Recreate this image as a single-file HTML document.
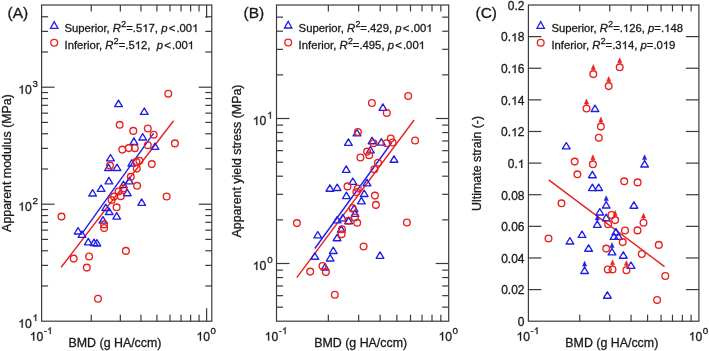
<!DOCTYPE html>
<html><head><meta charset="utf-8"><style>
html,body{margin:0;padding:0;background:#fff;}
svg{display:block;will-change:transform;}
text{font-family:"Liberation Sans",sans-serif;fill:#1a1a1a;stroke:#1a1a1a;stroke-width:0.3px;}
.o1{fill-opacity:0;stroke-opacity:0;}
</style></head><body>
<svg width="709" height="351" viewBox="0 0 709 351">
<rect x="41.60" y="5.00" width="170.20" height="316.20" fill="none" stroke="#3a3a3a" stroke-width="1.2"/>
<line x1="91.27" y1="321.20" x2="91.27" y2="314.70" stroke="#3a3a3a" stroke-width="1.2"/>
<line x1="91.27" y1="5.00" x2="91.27" y2="11.50" stroke="#3a3a3a" stroke-width="1.2"/>
<line x1="120.33" y1="321.20" x2="120.33" y2="314.70" stroke="#3a3a3a" stroke-width="1.2"/>
<line x1="120.33" y1="5.00" x2="120.33" y2="11.50" stroke="#3a3a3a" stroke-width="1.2"/>
<line x1="140.94" y1="321.20" x2="140.94" y2="314.70" stroke="#3a3a3a" stroke-width="1.2"/>
<line x1="140.94" y1="5.00" x2="140.94" y2="11.50" stroke="#3a3a3a" stroke-width="1.2"/>
<line x1="156.93" y1="321.20" x2="156.93" y2="314.70" stroke="#3a3a3a" stroke-width="1.2"/>
<line x1="156.93" y1="5.00" x2="156.93" y2="11.50" stroke="#3a3a3a" stroke-width="1.2"/>
<line x1="169.99" y1="321.20" x2="169.99" y2="314.70" stroke="#3a3a3a" stroke-width="1.2"/>
<line x1="169.99" y1="5.00" x2="169.99" y2="11.50" stroke="#3a3a3a" stroke-width="1.2"/>
<line x1="181.04" y1="321.20" x2="181.04" y2="314.70" stroke="#3a3a3a" stroke-width="1.2"/>
<line x1="181.04" y1="5.00" x2="181.04" y2="11.50" stroke="#3a3a3a" stroke-width="1.2"/>
<line x1="190.61" y1="321.20" x2="190.61" y2="314.70" stroke="#3a3a3a" stroke-width="1.2"/>
<line x1="190.61" y1="5.00" x2="190.61" y2="11.50" stroke="#3a3a3a" stroke-width="1.2"/>
<line x1="199.05" y1="321.20" x2="199.05" y2="314.70" stroke="#3a3a3a" stroke-width="1.2"/>
<line x1="199.05" y1="5.00" x2="199.05" y2="11.50" stroke="#3a3a3a" stroke-width="1.2"/>
<line x1="206.60" y1="321.20" x2="206.60" y2="308.20" stroke="#3a3a3a" stroke-width="1.2"/>
<line x1="206.60" y1="5.00" x2="206.60" y2="18.00" stroke="#3a3a3a" stroke-width="1.2"/>
<line x1="41.60" y1="285.98" x2="48.10" y2="285.98" stroke="#3a3a3a" stroke-width="1.2"/>
<line x1="211.80" y1="285.98" x2="205.30" y2="285.98" stroke="#3a3a3a" stroke-width="1.2"/>
<line x1="41.60" y1="265.38" x2="48.10" y2="265.38" stroke="#3a3a3a" stroke-width="1.2"/>
<line x1="211.80" y1="265.38" x2="205.30" y2="265.38" stroke="#3a3a3a" stroke-width="1.2"/>
<line x1="41.60" y1="250.76" x2="48.10" y2="250.76" stroke="#3a3a3a" stroke-width="1.2"/>
<line x1="211.80" y1="250.76" x2="205.30" y2="250.76" stroke="#3a3a3a" stroke-width="1.2"/>
<line x1="41.60" y1="239.42" x2="48.10" y2="239.42" stroke="#3a3a3a" stroke-width="1.2"/>
<line x1="211.80" y1="239.42" x2="205.30" y2="239.42" stroke="#3a3a3a" stroke-width="1.2"/>
<line x1="41.60" y1="230.16" x2="48.10" y2="230.16" stroke="#3a3a3a" stroke-width="1.2"/>
<line x1="211.80" y1="230.16" x2="205.30" y2="230.16" stroke="#3a3a3a" stroke-width="1.2"/>
<line x1="41.60" y1="222.32" x2="48.10" y2="222.32" stroke="#3a3a3a" stroke-width="1.2"/>
<line x1="211.80" y1="222.32" x2="205.30" y2="222.32" stroke="#3a3a3a" stroke-width="1.2"/>
<line x1="41.60" y1="215.54" x2="48.10" y2="215.54" stroke="#3a3a3a" stroke-width="1.2"/>
<line x1="211.80" y1="215.54" x2="205.30" y2="215.54" stroke="#3a3a3a" stroke-width="1.2"/>
<line x1="41.60" y1="209.55" x2="48.10" y2="209.55" stroke="#3a3a3a" stroke-width="1.2"/>
<line x1="211.80" y1="209.55" x2="205.30" y2="209.55" stroke="#3a3a3a" stroke-width="1.2"/>
<line x1="41.60" y1="204.20" x2="54.60" y2="204.20" stroke="#3a3a3a" stroke-width="1.2"/>
<line x1="211.80" y1="204.20" x2="198.80" y2="204.20" stroke="#3a3a3a" stroke-width="1.2"/>
<line x1="41.60" y1="168.98" x2="48.10" y2="168.98" stroke="#3a3a3a" stroke-width="1.2"/>
<line x1="211.80" y1="168.98" x2="205.30" y2="168.98" stroke="#3a3a3a" stroke-width="1.2"/>
<line x1="41.60" y1="148.38" x2="48.10" y2="148.38" stroke="#3a3a3a" stroke-width="1.2"/>
<line x1="211.80" y1="148.38" x2="205.30" y2="148.38" stroke="#3a3a3a" stroke-width="1.2"/>
<line x1="41.60" y1="133.76" x2="48.10" y2="133.76" stroke="#3a3a3a" stroke-width="1.2"/>
<line x1="211.80" y1="133.76" x2="205.30" y2="133.76" stroke="#3a3a3a" stroke-width="1.2"/>
<line x1="41.60" y1="122.42" x2="48.10" y2="122.42" stroke="#3a3a3a" stroke-width="1.2"/>
<line x1="211.80" y1="122.42" x2="205.30" y2="122.42" stroke="#3a3a3a" stroke-width="1.2"/>
<line x1="41.60" y1="113.16" x2="48.10" y2="113.16" stroke="#3a3a3a" stroke-width="1.2"/>
<line x1="211.80" y1="113.16" x2="205.30" y2="113.16" stroke="#3a3a3a" stroke-width="1.2"/>
<line x1="41.60" y1="105.32" x2="48.10" y2="105.32" stroke="#3a3a3a" stroke-width="1.2"/>
<line x1="211.80" y1="105.32" x2="205.30" y2="105.32" stroke="#3a3a3a" stroke-width="1.2"/>
<line x1="41.60" y1="98.54" x2="48.10" y2="98.54" stroke="#3a3a3a" stroke-width="1.2"/>
<line x1="211.80" y1="98.54" x2="205.30" y2="98.54" stroke="#3a3a3a" stroke-width="1.2"/>
<line x1="41.60" y1="92.55" x2="48.10" y2="92.55" stroke="#3a3a3a" stroke-width="1.2"/>
<line x1="211.80" y1="92.55" x2="205.30" y2="92.55" stroke="#3a3a3a" stroke-width="1.2"/>
<line x1="41.60" y1="87.20" x2="54.60" y2="87.20" stroke="#3a3a3a" stroke-width="1.2"/>
<line x1="211.80" y1="87.20" x2="198.80" y2="87.20" stroke="#3a3a3a" stroke-width="1.2"/>
<line x1="41.60" y1="51.98" x2="48.10" y2="51.98" stroke="#3a3a3a" stroke-width="1.2"/>
<line x1="211.80" y1="51.98" x2="205.30" y2="51.98" stroke="#3a3a3a" stroke-width="1.2"/>
<line x1="41.60" y1="31.38" x2="48.10" y2="31.38" stroke="#3a3a3a" stroke-width="1.2"/>
<line x1="211.80" y1="31.38" x2="205.30" y2="31.38" stroke="#3a3a3a" stroke-width="1.2"/>
<line x1="41.60" y1="16.76" x2="48.10" y2="16.76" stroke="#3a3a3a" stroke-width="1.2"/>
<line x1="211.80" y1="16.76" x2="205.30" y2="16.76" stroke="#3a3a3a" stroke-width="1.2"/>
<rect x="276.50" y="5.00" width="172.20" height="316.20" fill="none" stroke="#3a3a3a" stroke-width="1.2"/>
<line x1="328.34" y1="321.20" x2="328.34" y2="314.70" stroke="#3a3a3a" stroke-width="1.2"/>
<line x1="328.34" y1="5.00" x2="328.34" y2="11.50" stroke="#3a3a3a" stroke-width="1.2"/>
<line x1="358.66" y1="321.20" x2="358.66" y2="314.70" stroke="#3a3a3a" stroke-width="1.2"/>
<line x1="358.66" y1="5.00" x2="358.66" y2="11.50" stroke="#3a3a3a" stroke-width="1.2"/>
<line x1="380.17" y1="321.20" x2="380.17" y2="314.70" stroke="#3a3a3a" stroke-width="1.2"/>
<line x1="380.17" y1="5.00" x2="380.17" y2="11.50" stroke="#3a3a3a" stroke-width="1.2"/>
<line x1="396.86" y1="321.20" x2="396.86" y2="314.70" stroke="#3a3a3a" stroke-width="1.2"/>
<line x1="396.86" y1="5.00" x2="396.86" y2="11.50" stroke="#3a3a3a" stroke-width="1.2"/>
<line x1="410.50" y1="321.20" x2="410.50" y2="314.70" stroke="#3a3a3a" stroke-width="1.2"/>
<line x1="410.50" y1="5.00" x2="410.50" y2="11.50" stroke="#3a3a3a" stroke-width="1.2"/>
<line x1="422.03" y1="321.20" x2="422.03" y2="314.70" stroke="#3a3a3a" stroke-width="1.2"/>
<line x1="422.03" y1="5.00" x2="422.03" y2="11.50" stroke="#3a3a3a" stroke-width="1.2"/>
<line x1="432.01" y1="321.20" x2="432.01" y2="314.70" stroke="#3a3a3a" stroke-width="1.2"/>
<line x1="432.01" y1="5.00" x2="432.01" y2="11.50" stroke="#3a3a3a" stroke-width="1.2"/>
<line x1="440.82" y1="321.20" x2="440.82" y2="314.70" stroke="#3a3a3a" stroke-width="1.2"/>
<line x1="440.82" y1="5.00" x2="440.82" y2="11.50" stroke="#3a3a3a" stroke-width="1.2"/>
<line x1="276.50" y1="307.15" x2="283.00" y2="307.15" stroke="#3a3a3a" stroke-width="1.2"/>
<line x1="448.70" y1="307.15" x2="442.20" y2="307.15" stroke="#3a3a3a" stroke-width="1.2"/>
<line x1="276.50" y1="295.67" x2="283.00" y2="295.67" stroke="#3a3a3a" stroke-width="1.2"/>
<line x1="448.70" y1="295.67" x2="442.20" y2="295.67" stroke="#3a3a3a" stroke-width="1.2"/>
<line x1="276.50" y1="285.96" x2="283.00" y2="285.96" stroke="#3a3a3a" stroke-width="1.2"/>
<line x1="448.70" y1="285.96" x2="442.20" y2="285.96" stroke="#3a3a3a" stroke-width="1.2"/>
<line x1="276.50" y1="277.55" x2="283.00" y2="277.55" stroke="#3a3a3a" stroke-width="1.2"/>
<line x1="448.70" y1="277.55" x2="442.20" y2="277.55" stroke="#3a3a3a" stroke-width="1.2"/>
<line x1="276.50" y1="270.13" x2="283.00" y2="270.13" stroke="#3a3a3a" stroke-width="1.2"/>
<line x1="448.70" y1="270.13" x2="442.20" y2="270.13" stroke="#3a3a3a" stroke-width="1.2"/>
<line x1="276.50" y1="263.50" x2="289.50" y2="263.50" stroke="#3a3a3a" stroke-width="1.2"/>
<line x1="448.70" y1="263.50" x2="435.70" y2="263.50" stroke="#3a3a3a" stroke-width="1.2"/>
<line x1="276.50" y1="219.85" x2="283.00" y2="219.85" stroke="#3a3a3a" stroke-width="1.2"/>
<line x1="448.70" y1="219.85" x2="442.20" y2="219.85" stroke="#3a3a3a" stroke-width="1.2"/>
<line x1="276.50" y1="194.32" x2="283.00" y2="194.32" stroke="#3a3a3a" stroke-width="1.2"/>
<line x1="448.70" y1="194.32" x2="442.20" y2="194.32" stroke="#3a3a3a" stroke-width="1.2"/>
<line x1="276.50" y1="176.20" x2="283.00" y2="176.20" stroke="#3a3a3a" stroke-width="1.2"/>
<line x1="448.70" y1="176.20" x2="442.20" y2="176.20" stroke="#3a3a3a" stroke-width="1.2"/>
<line x1="276.50" y1="162.15" x2="283.00" y2="162.15" stroke="#3a3a3a" stroke-width="1.2"/>
<line x1="448.70" y1="162.15" x2="442.20" y2="162.15" stroke="#3a3a3a" stroke-width="1.2"/>
<line x1="276.50" y1="150.67" x2="283.00" y2="150.67" stroke="#3a3a3a" stroke-width="1.2"/>
<line x1="448.70" y1="150.67" x2="442.20" y2="150.67" stroke="#3a3a3a" stroke-width="1.2"/>
<line x1="276.50" y1="140.96" x2="283.00" y2="140.96" stroke="#3a3a3a" stroke-width="1.2"/>
<line x1="448.70" y1="140.96" x2="442.20" y2="140.96" stroke="#3a3a3a" stroke-width="1.2"/>
<line x1="276.50" y1="132.55" x2="283.00" y2="132.55" stroke="#3a3a3a" stroke-width="1.2"/>
<line x1="448.70" y1="132.55" x2="442.20" y2="132.55" stroke="#3a3a3a" stroke-width="1.2"/>
<line x1="276.50" y1="125.13" x2="283.00" y2="125.13" stroke="#3a3a3a" stroke-width="1.2"/>
<line x1="448.70" y1="125.13" x2="442.20" y2="125.13" stroke="#3a3a3a" stroke-width="1.2"/>
<line x1="276.50" y1="118.50" x2="289.50" y2="118.50" stroke="#3a3a3a" stroke-width="1.2"/>
<line x1="448.70" y1="118.50" x2="435.70" y2="118.50" stroke="#3a3a3a" stroke-width="1.2"/>
<line x1="276.50" y1="74.85" x2="283.00" y2="74.85" stroke="#3a3a3a" stroke-width="1.2"/>
<line x1="448.70" y1="74.85" x2="442.20" y2="74.85" stroke="#3a3a3a" stroke-width="1.2"/>
<line x1="276.50" y1="49.32" x2="283.00" y2="49.32" stroke="#3a3a3a" stroke-width="1.2"/>
<line x1="448.70" y1="49.32" x2="442.20" y2="49.32" stroke="#3a3a3a" stroke-width="1.2"/>
<line x1="276.50" y1="31.20" x2="283.00" y2="31.20" stroke="#3a3a3a" stroke-width="1.2"/>
<line x1="448.70" y1="31.20" x2="442.20" y2="31.20" stroke="#3a3a3a" stroke-width="1.2"/>
<line x1="276.50" y1="17.15" x2="283.00" y2="17.15" stroke="#3a3a3a" stroke-width="1.2"/>
<line x1="448.70" y1="17.15" x2="442.20" y2="17.15" stroke="#3a3a3a" stroke-width="1.2"/>
<rect x="528.40" y="5.00" width="170.50" height="316.20" fill="none" stroke="#3a3a3a" stroke-width="1.2"/>
<line x1="579.73" y1="321.20" x2="579.73" y2="314.70" stroke="#3a3a3a" stroke-width="1.2"/>
<line x1="579.73" y1="5.00" x2="579.73" y2="11.50" stroke="#3a3a3a" stroke-width="1.2"/>
<line x1="609.75" y1="321.20" x2="609.75" y2="314.70" stroke="#3a3a3a" stroke-width="1.2"/>
<line x1="609.75" y1="5.00" x2="609.75" y2="11.50" stroke="#3a3a3a" stroke-width="1.2"/>
<line x1="631.05" y1="321.20" x2="631.05" y2="314.70" stroke="#3a3a3a" stroke-width="1.2"/>
<line x1="631.05" y1="5.00" x2="631.05" y2="11.50" stroke="#3a3a3a" stroke-width="1.2"/>
<line x1="647.57" y1="321.20" x2="647.57" y2="314.70" stroke="#3a3a3a" stroke-width="1.2"/>
<line x1="647.57" y1="5.00" x2="647.57" y2="11.50" stroke="#3a3a3a" stroke-width="1.2"/>
<line x1="661.07" y1="321.20" x2="661.07" y2="314.70" stroke="#3a3a3a" stroke-width="1.2"/>
<line x1="661.07" y1="5.00" x2="661.07" y2="11.50" stroke="#3a3a3a" stroke-width="1.2"/>
<line x1="672.49" y1="321.20" x2="672.49" y2="314.70" stroke="#3a3a3a" stroke-width="1.2"/>
<line x1="672.49" y1="5.00" x2="672.49" y2="11.50" stroke="#3a3a3a" stroke-width="1.2"/>
<line x1="682.38" y1="321.20" x2="682.38" y2="314.70" stroke="#3a3a3a" stroke-width="1.2"/>
<line x1="682.38" y1="5.00" x2="682.38" y2="11.50" stroke="#3a3a3a" stroke-width="1.2"/>
<line x1="691.10" y1="321.20" x2="691.10" y2="314.70" stroke="#3a3a3a" stroke-width="1.2"/>
<line x1="691.10" y1="5.00" x2="691.10" y2="11.50" stroke="#3a3a3a" stroke-width="1.2"/>
<line x1="528.40" y1="289.58" x2="541.40" y2="289.58" stroke="#3a3a3a" stroke-width="1.2"/>
<line x1="698.90" y1="289.58" x2="685.90" y2="289.58" stroke="#3a3a3a" stroke-width="1.2"/>
<line x1="528.40" y1="257.96" x2="541.40" y2="257.96" stroke="#3a3a3a" stroke-width="1.2"/>
<line x1="698.90" y1="257.96" x2="685.90" y2="257.96" stroke="#3a3a3a" stroke-width="1.2"/>
<line x1="528.40" y1="226.34" x2="541.40" y2="226.34" stroke="#3a3a3a" stroke-width="1.2"/>
<line x1="698.90" y1="226.34" x2="685.90" y2="226.34" stroke="#3a3a3a" stroke-width="1.2"/>
<line x1="528.40" y1="194.72" x2="541.40" y2="194.72" stroke="#3a3a3a" stroke-width="1.2"/>
<line x1="698.90" y1="194.72" x2="685.90" y2="194.72" stroke="#3a3a3a" stroke-width="1.2"/>
<line x1="528.40" y1="163.10" x2="541.40" y2="163.10" stroke="#3a3a3a" stroke-width="1.2"/>
<line x1="698.90" y1="163.10" x2="685.90" y2="163.10" stroke="#3a3a3a" stroke-width="1.2"/>
<line x1="528.40" y1="131.48" x2="541.40" y2="131.48" stroke="#3a3a3a" stroke-width="1.2"/>
<line x1="698.90" y1="131.48" x2="685.90" y2="131.48" stroke="#3a3a3a" stroke-width="1.2"/>
<line x1="528.40" y1="99.86" x2="541.40" y2="99.86" stroke="#3a3a3a" stroke-width="1.2"/>
<line x1="698.90" y1="99.86" x2="685.90" y2="99.86" stroke="#3a3a3a" stroke-width="1.2"/>
<line x1="528.40" y1="68.24" x2="541.40" y2="68.24" stroke="#3a3a3a" stroke-width="1.2"/>
<line x1="698.90" y1="68.24" x2="685.90" y2="68.24" stroke="#3a3a3a" stroke-width="1.2"/>
<line x1="528.40" y1="36.62" x2="541.40" y2="36.62" stroke="#3a3a3a" stroke-width="1.2"/>
<line x1="698.90" y1="36.62" x2="685.90" y2="36.62" stroke="#3a3a3a" stroke-width="1.2"/>
<path d="M50.50,28.30 L54.20,21.70 L57.90,28.30 Z" fill="none" stroke="#1e1ee6" stroke-width="1.3"/>
<circle cx="54.20" cy="42.80" r="3.4" fill="none" stroke="#e8201e" stroke-width="1.3"/>
<text x="64.50" y="32.0" font-size="11.3">Superior, <tspan font-style="italic">R</tspan><tspan font-size="8.8" dy="-5" dx="0.3">2</tspan><tspan dy="5">=.5<tspan class="o1">1</tspan>7,</tspan> <tspan font-style="italic">p</tspan><tspan dx="1.3">&lt;</tspan><tspan dx="1.1">.00<tspan class="o1">1</tspan></tspan></text>
<text x="64.50" y="49.1" font-size="11.3">Inferior, <tspan font-style="italic">R</tspan><tspan font-size="8.8" dy="-5" dx="0.3">2</tspan><tspan dy="5">=.5<tspan class="o1">1</tspan>2,</tspan>&#160; <tspan font-style="italic">p</tspan><tspan dx="1.3">&lt;</tspan><tspan dx="1.1">.00<tspan class="o1">1</tspan></tspan></text>
<path d="M284.50,28.00 L288.20,21.40 L291.90,28.00 Z" fill="none" stroke="#1e1ee6" stroke-width="1.3"/>
<circle cx="288.20" cy="42.50" r="3.4" fill="none" stroke="#e8201e" stroke-width="1.3"/>
<text x="298.60" y="32.0" font-size="11.3">Superior, <tspan font-style="italic">R</tspan><tspan font-size="8.8" dy="-5" dx="0.3">2</tspan><tspan dy="5">=.429,</tspan> <tspan font-style="italic">p</tspan><tspan dx="1.3">&lt;</tspan><tspan dx="1.1">.00<tspan class="o1">1</tspan></tspan></text>
<text x="298.60" y="49.1" font-size="11.3">Inferior, <tspan font-style="italic">R</tspan><tspan font-size="8.8" dy="-5" dx="0.3">2</tspan><tspan dy="5">=.495,</tspan> <tspan font-style="italic">p</tspan><tspan dx="1.3">&lt;</tspan><tspan dx="1.1">.00<tspan class="o1">1</tspan></tspan></text>
<path d="M537.00,28.30 L540.70,21.70 L544.40,28.30 Z" fill="none" stroke="#1e1ee6" stroke-width="1.3"/>
<circle cx="540.70" cy="42.80" r="3.4" fill="none" stroke="#e8201e" stroke-width="1.3"/>
<text x="551.40" y="32.0" font-size="11.3">Superior, <tspan font-style="italic">R</tspan><tspan font-size="8.8" dy="-5" dx="0.3">2</tspan><tspan dy="5">=.<tspan class="o1">1</tspan>26,</tspan> <tspan font-style="italic">p</tspan>=.<tspan class="o1">1</tspan>48</text>
<text x="551.40" y="49.1" font-size="11.3">Inferior, <tspan font-style="italic">R</tspan><tspan font-size="8.8" dy="-5" dx="0.3">2</tspan><tspan dy="5">=.3<tspan class="o1">1</tspan>4,</tspan> <tspan font-style="italic">p</tspan>=.0<tspan class="o1">1</tspan>9</text>
<text x="7.50" y="17.50" font-size="15.5" text-anchor="start" >(A)</text>
<text x="243.50" y="17.50" font-size="15.5" text-anchor="start" >(B)</text>
<text x="475.50" y="17.50" font-size="15.5" text-anchor="start" >(C)</text>
<text x="38.00" y="93.70" font-size="12.2" text-anchor="end"><tspan class="o1">1</tspan>0<tspan font-size="9.8" dy="-6.6" dx="0.8">3</tspan></text>
<text x="38.00" y="210.70" font-size="12.2" text-anchor="end"><tspan class="o1">1</tspan>0<tspan font-size="9.8" dy="-6.6" dx="0.8">2</tspan></text>
<text x="38.00" y="327.70" font-size="12.2" text-anchor="end"><tspan class="o1">1</tspan>0<tspan font-size="9.8" dy="-6.6" dx="0.8"><tspan class="o1">1</tspan></tspan></text>
<text x="272.60" y="125.00" font-size="12.2" text-anchor="end"><tspan class="o1">1</tspan>0<tspan font-size="9.8" dy="-6.6" dx="0.8"><tspan class="o1">1</tspan></tspan></text>
<text x="272.60" y="270.00" font-size="12.2" text-anchor="end"><tspan class="o1">1</tspan>0<tspan font-size="9.8" dy="-6.6" dx="0.8">0</tspan></text>
<text x="524.50" y="326.00" font-size="12.0" text-anchor="end" >0</text>
<text x="524.50" y="294.38" font-size="12.0" text-anchor="end" >0.02</text>
<text x="524.50" y="262.76" font-size="12.0" text-anchor="end" >0.04</text>
<text x="524.50" y="231.14" font-size="12.0" text-anchor="end" >0.06</text>
<text x="524.50" y="199.52" font-size="12.0" text-anchor="end" >0.08</text>
<text x="524.50" y="167.90" font-size="12.0" text-anchor="end" >0.<tspan class="o1">1</tspan></text>
<text x="524.50" y="136.28" font-size="12.0" text-anchor="end" >0.<tspan class="o1">1</tspan>2</text>
<text x="524.50" y="104.66" font-size="12.0" text-anchor="end" >0.<tspan class="o1">1</tspan>4</text>
<text x="524.50" y="73.04" font-size="12.0" text-anchor="end" >0.<tspan class="o1">1</tspan>6</text>
<text x="524.50" y="41.42" font-size="12.0" text-anchor="end" >0.<tspan class="o1">1</tspan>8</text>
<text x="524.50" y="10.20" font-size="12.0" text-anchor="end" >0.2</text>
<text x="41.10" y="340.50" font-size="12.2" text-anchor="middle"><tspan class="o1">1</tspan>0<tspan font-size="9.8" dy="-6.4" dx="0.5">-<tspan class="o1">1</tspan></tspan></text>
<text x="206.20" y="340.50" font-size="12.2" text-anchor="middle"><tspan class="o1">1</tspan>0<tspan font-size="9.8" dy="-6.4" dx="0.5">0</tspan></text>
<text x="276.00" y="340.50" font-size="12.2" text-anchor="middle"><tspan class="o1">1</tspan>0<tspan font-size="9.8" dy="-6.4" dx="0.5">-<tspan class="o1">1</tspan></tspan></text>
<text x="448.30" y="340.50" font-size="12.2" text-anchor="middle"><tspan class="o1">1</tspan>0<tspan font-size="9.8" dy="-6.4" dx="0.5">0</tspan></text>
<text x="527.90" y="340.50" font-size="12.2" text-anchor="middle"><tspan class="o1">1</tspan>0<tspan font-size="9.8" dy="-6.4" dx="0.5">-<tspan class="o1">1</tspan></tspan></text>
<text x="698.50" y="340.50" font-size="12.2" text-anchor="middle"><tspan class="o1">1</tspan>0<tspan font-size="9.8" dy="-6.4" dx="0.5">0</tspan></text>
<text x="115.00" y="346.70" font-size="12.4" text-anchor="middle" >BMD (g HA/ccm)</text>
<text x="360.70" y="346.70" font-size="12.4" text-anchor="middle" >BMD (g HA/ccm)</text>
<text x="611.80" y="346.70" font-size="12.4" text-anchor="middle" >BMD (g HA/ccm)</text>
<text transform="translate(11,163) rotate(-90)" font-size="12.4" text-anchor="middle">Apparent modulus (MPa)</text>
<text transform="translate(241,161) rotate(-90)" font-size="12.4" text-anchor="middle">Apparent yield stress (MPa)</text>
<text transform="translate(481,163.4) rotate(-90)" font-size="12.4" text-anchor="middle">Ultimate strain (-)</text>
<line x1="82.8" y1="232.3" x2="153.5" y2="133.4" stroke="#1e1ee6" stroke-width="1.4"/>
<line x1="61.2" y1="267.2" x2="173.6" y2="120.8" stroke="#e8201e" stroke-width="1.4"/>
<path d="M114.65,106.60L118.50,100.20L122.35,106.60Z" fill="none" stroke="#1e1ee6" stroke-width="1.35" stroke-linejoin="round"/>
<path d="M140.45,114.40L144.30,108.00L148.15,114.40Z" fill="none" stroke="#1e1ee6" stroke-width="1.35" stroke-linejoin="round"/>
<path d="M138.85,140.00L142.70,133.60L146.55,140.00Z" fill="none" stroke="#1e1ee6" stroke-width="1.35" stroke-linejoin="round"/>
<path d="M130.05,144.30L133.90,137.90L137.75,144.30Z" fill="none" stroke="#1e1ee6" stroke-width="1.35" stroke-linejoin="round"/>
<path d="M151.15,149.40L155.00,143.00L158.85,149.40Z" fill="none" stroke="#1e1ee6" stroke-width="1.35" stroke-linejoin="round"/>
<path d="M106.65,160.90L110.50,154.50L114.35,160.90Z" fill="none" stroke="#1e1ee6" stroke-width="1.35" stroke-linejoin="round"/>
<path d="M104.65,170.50L108.50,164.10L112.35,170.50Z" fill="none" stroke="#1e1ee6" stroke-width="1.35" stroke-linejoin="round"/>
<path d="M113.15,170.50L117.00,164.10L120.85,170.50Z" fill="none" stroke="#1e1ee6" stroke-width="1.35" stroke-linejoin="round"/>
<path d="M127.95,166.00L131.80,159.60L135.65,166.00Z" fill="none" stroke="#1e1ee6" stroke-width="1.35" stroke-linejoin="round"/>
<path d="M105.05,183.80L108.90,177.40L112.75,183.80Z" fill="none" stroke="#1e1ee6" stroke-width="1.35" stroke-linejoin="round"/>
<path d="M97.25,191.40L101.10,185.00L104.95,191.40Z" fill="none" stroke="#1e1ee6" stroke-width="1.35" stroke-linejoin="round"/>
<path d="M88.75,196.00L92.60,189.60L96.45,196.00Z" fill="none" stroke="#1e1ee6" stroke-width="1.35" stroke-linejoin="round"/>
<path d="M125.45,183.80L129.30,177.40L133.15,183.80Z" fill="none" stroke="#1e1ee6" stroke-width="1.35" stroke-linejoin="round"/>
<path d="M119.55,187.60L123.40,181.20L127.25,187.60Z" fill="none" stroke="#1e1ee6" stroke-width="1.35" stroke-linejoin="round"/>
<path d="M123.45,195.70L127.30,189.30L131.15,195.70Z" fill="none" stroke="#1e1ee6" stroke-width="1.35" stroke-linejoin="round"/>
<path d="M137.85,205.30L141.70,198.90L145.55,205.30Z" fill="none" stroke="#1e1ee6" stroke-width="1.35" stroke-linejoin="round"/>
<path d="M101.95,210.50L105.80,204.10L109.65,210.50Z" fill="none" stroke="#1e1ee6" stroke-width="1.35" stroke-linejoin="round"/>
<path d="M105.35,214.50L109.20,208.10L113.05,214.50Z" fill="none" stroke="#1e1ee6" stroke-width="1.35" stroke-linejoin="round"/>
<path d="M112.85,219.10L116.70,212.70L120.55,219.10Z" fill="none" stroke="#1e1ee6" stroke-width="1.35" stroke-linejoin="round"/>
<path d="M99.15,223.10L103.00,216.70L106.85,223.10Z" fill="none" stroke="#1e1ee6" stroke-width="1.35" stroke-linejoin="round"/>
<path d="M74.25,234.00L78.10,227.60L81.95,234.00Z" fill="none" stroke="#1e1ee6" stroke-width="1.35" stroke-linejoin="round"/>
<path d="M78.15,237.40L82.00,231.00L85.85,237.40Z" fill="none" stroke="#1e1ee6" stroke-width="1.35" stroke-linejoin="round"/>
<path d="M84.45,244.80L88.30,238.40L92.15,244.80Z" fill="none" stroke="#1e1ee6" stroke-width="1.35" stroke-linejoin="round"/>
<path d="M90.15,245.60L94.00,239.20L97.85,245.60Z" fill="none" stroke="#1e1ee6" stroke-width="1.35" stroke-linejoin="round"/>
<path d="M93.05,246.00L96.90,239.60L100.75,246.00Z" fill="none" stroke="#1e1ee6" stroke-width="1.35" stroke-linejoin="round"/>
<circle cx="168.30" cy="93.70" r="3.35" fill="none" stroke="#e8201e" stroke-width="1.35"/>
<circle cx="119.70" cy="124.80" r="3.35" fill="none" stroke="#e8201e" stroke-width="1.35"/>
<circle cx="133.30" cy="130.90" r="3.35" fill="none" stroke="#e8201e" stroke-width="1.35"/>
<circle cx="147.80" cy="128.50" r="3.35" fill="none" stroke="#e8201e" stroke-width="1.35"/>
<circle cx="153.70" cy="134.70" r="3.35" fill="none" stroke="#e8201e" stroke-width="1.35"/>
<circle cx="122.30" cy="149.60" r="3.35" fill="none" stroke="#e8201e" stroke-width="1.35"/>
<circle cx="128.80" cy="148.10" r="3.35" fill="none" stroke="#e8201e" stroke-width="1.35"/>
<circle cx="134.80" cy="148.20" r="3.35" fill="none" stroke="#e8201e" stroke-width="1.35"/>
<circle cx="147.80" cy="145.20" r="3.35" fill="none" stroke="#e8201e" stroke-width="1.35"/>
<circle cx="174.90" cy="143.40" r="3.35" fill="none" stroke="#e8201e" stroke-width="1.35"/>
<circle cx="110.00" cy="165.60" r="3.35" fill="none" stroke="#e8201e" stroke-width="1.35"/>
<circle cx="136.40" cy="161.90" r="3.35" fill="none" stroke="#e8201e" stroke-width="1.35"/>
<circle cx="139.40" cy="160.70" r="3.35" fill="none" stroke="#e8201e" stroke-width="1.35"/>
<circle cx="151.80" cy="164.10" r="3.35" fill="none" stroke="#e8201e" stroke-width="1.35"/>
<circle cx="136.80" cy="168.60" r="3.35" fill="none" stroke="#e8201e" stroke-width="1.35"/>
<circle cx="130.80" cy="176.80" r="3.35" fill="none" stroke="#e8201e" stroke-width="1.35"/>
<circle cx="137.10" cy="185.80" r="3.35" fill="none" stroke="#e8201e" stroke-width="1.35"/>
<circle cx="166.60" cy="196.50" r="3.35" fill="none" stroke="#e8201e" stroke-width="1.35"/>
<circle cx="118.50" cy="191.50" r="3.35" fill="none" stroke="#e8201e" stroke-width="1.35"/>
<circle cx="120.80" cy="196.20" r="3.35" fill="none" stroke="#e8201e" stroke-width="1.35"/>
<circle cx="114.00" cy="196.60" r="3.35" fill="none" stroke="#e8201e" stroke-width="1.35"/>
<circle cx="111.60" cy="200.00" r="3.35" fill="none" stroke="#e8201e" stroke-width="1.35"/>
<circle cx="123.20" cy="188.40" r="3.35" fill="none" stroke="#e8201e" stroke-width="1.35"/>
<circle cx="116.60" cy="207.30" r="3.35" fill="none" stroke="#e8201e" stroke-width="1.35"/>
<circle cx="104.10" cy="224.40" r="3.35" fill="none" stroke="#e8201e" stroke-width="1.35"/>
<circle cx="104.10" cy="228.00" r="3.35" fill="none" stroke="#e8201e" stroke-width="1.35"/>
<circle cx="61.50" cy="216.60" r="3.35" fill="none" stroke="#e8201e" stroke-width="1.35"/>
<circle cx="73.70" cy="258.60" r="3.35" fill="none" stroke="#e8201e" stroke-width="1.35"/>
<circle cx="89.10" cy="256.50" r="3.35" fill="none" stroke="#e8201e" stroke-width="1.35"/>
<circle cx="125.90" cy="250.90" r="3.35" fill="none" stroke="#e8201e" stroke-width="1.35"/>
<circle cx="86.80" cy="267.60" r="3.35" fill="none" stroke="#e8201e" stroke-width="1.35"/>
<circle cx="98.00" cy="298.80" r="3.35" fill="none" stroke="#e8201e" stroke-width="1.35"/>
<line x1="314.8" y1="248.5" x2="391.8" y2="142.5" stroke="#1e1ee6" stroke-width="1.4"/>
<line x1="296.8" y1="277.6" x2="414.1" y2="120.0" stroke="#e8201e" stroke-width="1.4"/>
<path d="M379.05,110.30L382.90,103.90L386.75,110.30Z" fill="none" stroke="#1e1ee6" stroke-width="1.35" stroke-linejoin="round"/>
<path d="M353.15,135.90L357.00,129.50L360.85,135.90Z" fill="none" stroke="#1e1ee6" stroke-width="1.35" stroke-linejoin="round"/>
<path d="M344.55,145.30L348.40,138.90L352.25,145.30Z" fill="none" stroke="#1e1ee6" stroke-width="1.35" stroke-linejoin="round"/>
<path d="M368.25,143.70L372.10,137.30L375.95,143.70Z" fill="none" stroke="#1e1ee6" stroke-width="1.35" stroke-linejoin="round"/>
<path d="M377.45,145.10L381.30,138.70L385.15,145.10Z" fill="none" stroke="#1e1ee6" stroke-width="1.35" stroke-linejoin="round"/>
<path d="M366.55,152.90L370.40,146.50L374.25,152.90Z" fill="none" stroke="#1e1ee6" stroke-width="1.35" stroke-linejoin="round"/>
<path d="M342.35,172.30L346.20,165.90L350.05,172.30Z" fill="none" stroke="#1e1ee6" stroke-width="1.35" stroke-linejoin="round"/>
<path d="M390.15,162.20L394.00,155.80L397.85,162.20Z" fill="none" stroke="#1e1ee6" stroke-width="1.35" stroke-linejoin="round"/>
<path d="M348.95,184.40L352.80,178.00L356.65,184.40Z" fill="none" stroke="#1e1ee6" stroke-width="1.35" stroke-linejoin="round"/>
<path d="M363.15,185.80L367.00,179.40L370.85,185.80Z" fill="none" stroke="#1e1ee6" stroke-width="1.35" stroke-linejoin="round"/>
<path d="M326.05,191.20L329.90,184.80L333.75,191.20Z" fill="none" stroke="#1e1ee6" stroke-width="1.35" stroke-linejoin="round"/>
<path d="M333.35,190.50L337.20,184.10L341.05,190.50Z" fill="none" stroke="#1e1ee6" stroke-width="1.35" stroke-linejoin="round"/>
<path d="M342.55,198.60L346.40,192.20L350.25,198.60Z" fill="none" stroke="#1e1ee6" stroke-width="1.35" stroke-linejoin="round"/>
<path d="M360.35,196.50L364.20,190.10L368.05,196.50Z" fill="none" stroke="#1e1ee6" stroke-width="1.35" stroke-linejoin="round"/>
<path d="M357.55,203.80L361.40,197.40L365.25,203.80Z" fill="none" stroke="#1e1ee6" stroke-width="1.35" stroke-linejoin="round"/>
<path d="M350.15,211.50L354.00,205.10L357.85,211.50Z" fill="none" stroke="#1e1ee6" stroke-width="1.35" stroke-linejoin="round"/>
<path d="M351.15,216.30L355.00,209.90L358.85,216.30Z" fill="none" stroke="#1e1ee6" stroke-width="1.35" stroke-linejoin="round"/>
<path d="M333.25,222.90L337.10,216.50L340.95,222.90Z" fill="none" stroke="#1e1ee6" stroke-width="1.35" stroke-linejoin="round"/>
<path d="M338.95,220.80L342.80,214.40L346.65,220.80Z" fill="none" stroke="#1e1ee6" stroke-width="1.35" stroke-linejoin="round"/>
<path d="M337.45,232.20L341.30,225.80L345.15,232.20Z" fill="none" stroke="#1e1ee6" stroke-width="1.35" stroke-linejoin="round"/>
<path d="M333.25,240.70L337.10,234.30L340.95,240.70Z" fill="none" stroke="#1e1ee6" stroke-width="1.35" stroke-linejoin="round"/>
<path d="M329.45,253.50L333.30,247.10L337.15,253.50Z" fill="none" stroke="#1e1ee6" stroke-width="1.35" stroke-linejoin="round"/>
<path d="M313.95,237.90L317.80,231.50L321.65,237.90Z" fill="none" stroke="#1e1ee6" stroke-width="1.35" stroke-linejoin="round"/>
<path d="M310.95,259.20L314.80,252.80L318.65,259.20Z" fill="none" stroke="#1e1ee6" stroke-width="1.35" stroke-linejoin="round"/>
<path d="M326.35,261.00L330.20,254.60L334.05,261.00Z" fill="none" stroke="#1e1ee6" stroke-width="1.35" stroke-linejoin="round"/>
<path d="M321.15,270.00L325.00,263.60L328.85,270.00Z" fill="none" stroke="#1e1ee6" stroke-width="1.35" stroke-linejoin="round"/>
<path d="M376.15,258.30L380.00,251.90L383.85,258.30Z" fill="none" stroke="#1e1ee6" stroke-width="1.35" stroke-linejoin="round"/>
<path d="M344.75,223.70L348.60,217.30L352.45,223.70Z" fill="none" stroke="#1e1ee6" stroke-width="1.35" stroke-linejoin="round"/>
<circle cx="408.20" cy="96.00" r="3.35" fill="none" stroke="#e8201e" stroke-width="1.35"/>
<circle cx="371.90" cy="103.00" r="3.35" fill="none" stroke="#e8201e" stroke-width="1.35"/>
<circle cx="386.80" cy="112.90" r="3.35" fill="none" stroke="#e8201e" stroke-width="1.35"/>
<circle cx="357.90" cy="132.00" r="3.35" fill="none" stroke="#e8201e" stroke-width="1.35"/>
<circle cx="373.50" cy="143.20" r="3.35" fill="none" stroke="#e8201e" stroke-width="1.35"/>
<circle cx="386.60" cy="143.20" r="3.35" fill="none" stroke="#e8201e" stroke-width="1.35"/>
<circle cx="390.80" cy="138.50" r="3.35" fill="none" stroke="#e8201e" stroke-width="1.35"/>
<circle cx="392.60" cy="142.50" r="3.35" fill="none" stroke="#e8201e" stroke-width="1.35"/>
<circle cx="415.10" cy="140.50" r="3.35" fill="none" stroke="#e8201e" stroke-width="1.35"/>
<circle cx="367.10" cy="151.60" r="3.35" fill="none" stroke="#e8201e" stroke-width="1.35"/>
<circle cx="369.20" cy="155.20" r="3.35" fill="none" stroke="#e8201e" stroke-width="1.35"/>
<circle cx="360.40" cy="157.50" r="3.35" fill="none" stroke="#e8201e" stroke-width="1.35"/>
<circle cx="378.00" cy="162.70" r="3.35" fill="none" stroke="#e8201e" stroke-width="1.35"/>
<circle cx="374.40" cy="169.20" r="3.35" fill="none" stroke="#e8201e" stroke-width="1.35"/>
<circle cx="347.50" cy="186.40" r="3.35" fill="none" stroke="#e8201e" stroke-width="1.35"/>
<circle cx="357.80" cy="188.50" r="3.35" fill="none" stroke="#e8201e" stroke-width="1.35"/>
<circle cx="356.40" cy="192.00" r="3.35" fill="none" stroke="#e8201e" stroke-width="1.35"/>
<circle cx="374.90" cy="195.60" r="3.35" fill="none" stroke="#e8201e" stroke-width="1.35"/>
<circle cx="375.90" cy="204.90" r="3.35" fill="none" stroke="#e8201e" stroke-width="1.35"/>
<circle cx="352.60" cy="208.20" r="3.35" fill="none" stroke="#e8201e" stroke-width="1.35"/>
<circle cx="348.50" cy="220.70" r="3.35" fill="none" stroke="#e8201e" stroke-width="1.35"/>
<circle cx="354.90" cy="217.50" r="3.35" fill="none" stroke="#e8201e" stroke-width="1.35"/>
<circle cx="357.20" cy="222.80" r="3.35" fill="none" stroke="#e8201e" stroke-width="1.35"/>
<circle cx="342.00" cy="229.20" r="3.35" fill="none" stroke="#e8201e" stroke-width="1.35"/>
<circle cx="341.60" cy="234.20" r="3.35" fill="none" stroke="#e8201e" stroke-width="1.35"/>
<circle cx="363.60" cy="246.50" r="3.35" fill="none" stroke="#e8201e" stroke-width="1.35"/>
<circle cx="406.90" cy="222.50" r="3.35" fill="none" stroke="#e8201e" stroke-width="1.35"/>
<circle cx="296.90" cy="223.10" r="3.35" fill="none" stroke="#e8201e" stroke-width="1.35"/>
<circle cx="322.50" cy="266.00" r="3.35" fill="none" stroke="#e8201e" stroke-width="1.35"/>
<circle cx="325.90" cy="272.10" r="3.35" fill="none" stroke="#e8201e" stroke-width="1.35"/>
<circle cx="310.20" cy="271.60" r="3.35" fill="none" stroke="#e8201e" stroke-width="1.35"/>
<circle cx="334.80" cy="294.70" r="3.35" fill="none" stroke="#e8201e" stroke-width="1.35"/>
<line x1="548.7" y1="179.9" x2="664.5" y2="266.6" stroke="#e8201e" stroke-width="1.4"/>
<path d="M591.15,111.50L595.00,105.10L598.85,111.50Z" fill="none" stroke="#1e1ee6" stroke-width="1.35" stroke-linejoin="round"/>
<path d="M562.45,148.90L566.30,142.50L570.15,148.90Z" fill="none" stroke="#1e1ee6" stroke-width="1.35" stroke-linejoin="round"/>
<path d="M588.55,177.70L592.40,171.30L596.25,177.70Z" fill="none" stroke="#1e1ee6" stroke-width="1.35" stroke-linejoin="round"/>
<path d="M588.55,190.60L592.40,184.20L596.25,190.60Z" fill="none" stroke="#1e1ee6" stroke-width="1.35" stroke-linejoin="round"/>
<path d="M594.85,190.50L598.70,184.10L602.55,190.50Z" fill="none" stroke="#1e1ee6" stroke-width="1.35" stroke-linejoin="round"/>
<path d="M595.95,215.00L599.80,208.60L603.65,215.00Z" fill="none" stroke="#1e1ee6" stroke-width="1.35" stroke-linejoin="round"/>
<path d="M602.35,220.60L606.20,214.20L610.05,220.60Z" fill="none" stroke="#1e1ee6" stroke-width="1.35" stroke-linejoin="round"/>
<path d="M578.15,237.40L582.00,231.00L585.85,237.40Z" fill="none" stroke="#1e1ee6" stroke-width="1.35" stroke-linejoin="round"/>
<path d="M612.05,234.80L615.90,228.40L619.75,234.80Z" fill="none" stroke="#1e1ee6" stroke-width="1.35" stroke-linejoin="round"/>
<path d="M610.15,239.40L614.00,233.00L617.85,239.40Z" fill="none" stroke="#1e1ee6" stroke-width="1.35" stroke-linejoin="round"/>
<path d="M614.65,239.40L618.50,233.00L622.35,239.40Z" fill="none" stroke="#1e1ee6" stroke-width="1.35" stroke-linejoin="round"/>
<path d="M619.45,258.20L623.30,251.80L627.15,258.20Z" fill="none" stroke="#1e1ee6" stroke-width="1.35" stroke-linejoin="round"/>
<path d="M566.05,244.00L569.90,237.60L573.75,244.00Z" fill="none" stroke="#1e1ee6" stroke-width="1.35" stroke-linejoin="round"/>
<path d="M584.75,251.20L588.60,244.80L592.45,251.20Z" fill="none" stroke="#1e1ee6" stroke-width="1.35" stroke-linejoin="round"/>
<path d="M627.15,268.40L631.00,262.00L634.85,268.40Z" fill="none" stroke="#1e1ee6" stroke-width="1.35" stroke-linejoin="round"/>
<path d="M630.05,208.20L633.90,201.80L637.75,208.20Z" fill="none" stroke="#1e1ee6" stroke-width="1.35" stroke-linejoin="round"/>
<path d="M603.55,298.20L607.40,291.80L611.25,298.20Z" fill="none" stroke="#1e1ee6" stroke-width="1.35" stroke-linejoin="round"/>
<path d="M602.35,208.00L606.20,201.60L610.05,208.00Z" fill="none" stroke="#1e1ee6" stroke-width="1.35" stroke-linejoin="round"/>
<path d="M606.20,195.80L608.30,200.60L604.10,200.60Z" fill="#1e1ee6" stroke="#1e1ee6" stroke-width="0.5"/>
<line x1="606.20" y1="200.60" x2="606.20" y2="202.00" stroke="#1e1ee6" stroke-width="1"/>
<path d="M593.45,227.30L597.30,220.90L601.15,227.30Z" fill="none" stroke="#1e1ee6" stroke-width="1.35" stroke-linejoin="round"/>
<path d="M597.30,215.10L599.40,219.90L595.20,219.90Z" fill="#1e1ee6" stroke="#1e1ee6" stroke-width="0.5"/>
<line x1="597.30" y1="219.90" x2="597.30" y2="221.30" stroke="#1e1ee6" stroke-width="1"/>
<path d="M640.75,167.00L644.60,160.60L648.45,167.00Z" fill="none" stroke="#1e1ee6" stroke-width="1.35" stroke-linejoin="round"/>
<path d="M644.60,154.80L646.70,159.60L642.50,159.60Z" fill="#1e1ee6" stroke="#1e1ee6" stroke-width="0.5"/>
<line x1="644.60" y1="159.60" x2="644.60" y2="161.00" stroke="#1e1ee6" stroke-width="1"/>
<path d="M608.15,254.90L612.00,248.50L615.85,254.90Z" fill="none" stroke="#1e1ee6" stroke-width="1.35" stroke-linejoin="round"/>
<path d="M612.00,242.70L614.10,247.50L609.90,247.50Z" fill="#1e1ee6" stroke="#1e1ee6" stroke-width="0.5"/>
<line x1="612.00" y1="247.50" x2="612.00" y2="248.90" stroke="#1e1ee6" stroke-width="1"/>
<path d="M580.75,273.50L584.60,267.10L588.45,273.50Z" fill="none" stroke="#1e1ee6" stroke-width="1.35" stroke-linejoin="round"/>
<path d="M584.60,261.30L586.70,266.10L582.50,266.10Z" fill="#1e1ee6" stroke="#1e1ee6" stroke-width="0.5"/>
<line x1="584.60" y1="266.10" x2="584.60" y2="267.50" stroke="#1e1ee6" stroke-width="1"/>
<circle cx="574.70" cy="161.60" r="3.35" fill="none" stroke="#e8201e" stroke-width="1.35"/>
<circle cx="577.40" cy="174.30" r="3.35" fill="none" stroke="#e8201e" stroke-width="1.35"/>
<circle cx="561.50" cy="203.30" r="3.35" fill="none" stroke="#e8201e" stroke-width="1.35"/>
<circle cx="598.80" cy="137.70" r="3.35" fill="none" stroke="#e8201e" stroke-width="1.35"/>
<circle cx="624.20" cy="181.30" r="3.35" fill="none" stroke="#e8201e" stroke-width="1.35"/>
<circle cx="637.60" cy="182.40" r="3.35" fill="none" stroke="#e8201e" stroke-width="1.35"/>
<circle cx="611.50" cy="215.00" r="3.35" fill="none" stroke="#e8201e" stroke-width="1.35"/>
<circle cx="608.10" cy="224.20" r="3.35" fill="none" stroke="#e8201e" stroke-width="1.35"/>
<circle cx="625.00" cy="230.50" r="3.35" fill="none" stroke="#e8201e" stroke-width="1.35"/>
<circle cx="637.50" cy="230.40" r="3.35" fill="none" stroke="#e8201e" stroke-width="1.35"/>
<circle cx="622.70" cy="242.10" r="3.35" fill="none" stroke="#e8201e" stroke-width="1.35"/>
<circle cx="658.80" cy="244.90" r="3.35" fill="none" stroke="#e8201e" stroke-width="1.35"/>
<circle cx="606.20" cy="248.60" r="3.35" fill="none" stroke="#e8201e" stroke-width="1.35"/>
<circle cx="641.80" cy="254.00" r="3.35" fill="none" stroke="#e8201e" stroke-width="1.35"/>
<circle cx="548.50" cy="238.50" r="3.35" fill="none" stroke="#e8201e" stroke-width="1.35"/>
<circle cx="607.80" cy="269.40" r="3.35" fill="none" stroke="#e8201e" stroke-width="1.35"/>
<circle cx="665.30" cy="276.00" r="3.35" fill="none" stroke="#e8201e" stroke-width="1.35"/>
<circle cx="657.10" cy="299.90" r="3.35" fill="none" stroke="#e8201e" stroke-width="1.35"/>
<circle cx="593.30" cy="74.10" r="3.35" fill="none" stroke="#e8201e" stroke-width="1.35"/>
<path d="M593.30,64.60L595.40,69.50L591.20,69.50Z" fill="#e8201e" stroke="#e8201e" stroke-width="0.5"/>
<line x1="593.30" y1="69.50" x2="593.30" y2="70.90" stroke="#e8201e" stroke-width="1"/>
<circle cx="619.70" cy="67.30" r="3.35" fill="none" stroke="#e8201e" stroke-width="1.35"/>
<path d="M619.70,57.80L621.80,62.70L617.60,62.70Z" fill="#e8201e" stroke="#e8201e" stroke-width="0.5"/>
<line x1="619.70" y1="62.70" x2="619.70" y2="64.10" stroke="#e8201e" stroke-width="1"/>
<circle cx="608.70" cy="86.10" r="3.35" fill="none" stroke="#e8201e" stroke-width="1.35"/>
<path d="M608.70,76.60L610.80,81.50L606.60,81.50Z" fill="#e8201e" stroke="#e8201e" stroke-width="0.5"/>
<line x1="608.70" y1="81.50" x2="608.70" y2="82.90" stroke="#e8201e" stroke-width="1"/>
<circle cx="586.50" cy="108.50" r="3.35" fill="none" stroke="#e8201e" stroke-width="1.35"/>
<path d="M586.50,99.00L588.60,103.90L584.40,103.90Z" fill="#e8201e" stroke="#e8201e" stroke-width="0.5"/>
<line x1="586.50" y1="103.90" x2="586.50" y2="105.30" stroke="#e8201e" stroke-width="1"/>
<circle cx="600.90" cy="126.60" r="3.35" fill="none" stroke="#e8201e" stroke-width="1.35"/>
<path d="M600.90,117.10L603.00,122.00L598.80,122.00Z" fill="#e8201e" stroke="#e8201e" stroke-width="0.5"/>
<line x1="600.90" y1="122.00" x2="600.90" y2="123.40" stroke="#e8201e" stroke-width="1"/>
<circle cx="592.90" cy="164.30" r="3.35" fill="none" stroke="#e8201e" stroke-width="1.35"/>
<path d="M592.90,154.80L595.00,159.70L590.80,159.70Z" fill="#e8201e" stroke="#e8201e" stroke-width="0.5"/>
<line x1="592.90" y1="159.70" x2="592.90" y2="161.10" stroke="#e8201e" stroke-width="1"/>
<circle cx="615.10" cy="220.10" r="3.35" fill="none" stroke="#e8201e" stroke-width="1.35"/>
<path d="M615.10,210.60L617.20,215.50L613.00,215.50Z" fill="#e8201e" stroke="#e8201e" stroke-width="0.5"/>
<line x1="615.10" y1="215.50" x2="615.10" y2="216.90" stroke="#e8201e" stroke-width="1"/>
<circle cx="643.50" cy="222.70" r="3.35" fill="none" stroke="#e8201e" stroke-width="1.35"/>
<path d="M643.50,213.20L645.60,218.10L641.40,218.10Z" fill="#e8201e" stroke="#e8201e" stroke-width="0.5"/>
<line x1="643.50" y1="218.10" x2="643.50" y2="219.50" stroke="#e8201e" stroke-width="1"/>
<circle cx="626.40" cy="270.20" r="3.35" fill="none" stroke="#e8201e" stroke-width="1.35"/>
<path d="M626.40,260.70L628.50,265.60L624.30,265.60Z" fill="#e8201e" stroke="#e8201e" stroke-width="0.5"/>
<line x1="626.40" y1="265.60" x2="626.40" y2="267.00" stroke="#e8201e" stroke-width="1"/>
<circle cx="612.50" cy="269.40" r="3.35" fill="none" stroke="#e8201e" stroke-width="1.35"/>
<path d="M612.50,259.90L614.60,264.80L610.40,264.80Z" fill="#e8201e" stroke="#e8201e" stroke-width="0.5"/>
<line x1="612.50" y1="264.80" x2="612.50" y2="266.20" stroke="#e8201e" stroke-width="1"/>
<path transform="translate(142.27,32.00) scale(0.00552,-0.00552)" d="M763 0H583V1102Q518 1043 412 983T223 894V1061Q375 1129 489 1226T650 1409H763Z" fill="#1a1a1a" stroke="#1a1a1a" stroke-width="0.3" vector-effect="non-scaling-stroke"/>
<path transform="translate(192.15,32.00) scale(0.00552,-0.00552)" d="M763 0H583V1102Q518 1043 412 983T223 894V1061Q375 1129 489 1226T650 1409H763Z" fill="#1a1a1a" stroke="#1a1a1a" stroke-width="0.3" vector-effect="non-scaling-stroke"/>
<path transform="translate(134.74,49.10) scale(0.00552,-0.00552)" d="M763 0H583V1102Q518 1043 412 983T223 894V1061Q375 1129 489 1226T650 1409H763Z" fill="#1a1a1a" stroke="#1a1a1a" stroke-width="0.3" vector-effect="non-scaling-stroke"/>
<path transform="translate(187.76,49.10) scale(0.00552,-0.00552)" d="M763 0H583V1102Q518 1043 412 983T223 894V1061Q375 1129 489 1226T650 1409H763Z" fill="#1a1a1a" stroke="#1a1a1a" stroke-width="0.3" vector-effect="non-scaling-stroke"/>
<path transform="translate(426.24,32.00) scale(0.00552,-0.00552)" d="M763 0H583V1102Q518 1043 412 983T223 894V1061Q375 1129 489 1226T650 1409H763Z" fill="#1a1a1a" stroke="#1a1a1a" stroke-width="0.3" vector-effect="non-scaling-stroke"/>
<path transform="translate(418.71,49.10) scale(0.00552,-0.00552)" d="M763 0H583V1102Q518 1043 412 983T223 894V1061Q375 1129 489 1226T650 1409H763Z" fill="#1a1a1a" stroke="#1a1a1a" stroke-width="0.3" vector-effect="non-scaling-stroke"/>
<path transform="translate(622.89,32.00) scale(0.00552,-0.00552)" d="M763 0H583V1102Q518 1043 412 983T223 894V1061Q375 1129 489 1226T650 1409H763Z" fill="#1a1a1a" stroke="#1a1a1a" stroke-width="0.3" vector-effect="non-scaling-stroke"/>
<path transform="translate(664.09,32.00) scale(0.00552,-0.00552)" d="M763 0H583V1102Q518 1043 412 983T223 894V1061Q375 1129 489 1226T650 1409H763Z" fill="#1a1a1a" stroke="#1a1a1a" stroke-width="0.3" vector-effect="non-scaling-stroke"/>
<path transform="translate(621.64,49.10) scale(0.00552,-0.00552)" d="M763 0H583V1102Q518 1043 412 983T223 894V1061Q375 1129 489 1226T650 1409H763Z" fill="#1a1a1a" stroke="#1a1a1a" stroke-width="0.3" vector-effect="non-scaling-stroke"/>
<path transform="translate(662.83,49.10) scale(0.00552,-0.00552)" d="M763 0H583V1102Q518 1043 412 983T223 894V1061Q375 1129 489 1226T650 1409H763Z" fill="#1a1a1a" stroke="#1a1a1a" stroke-width="0.3" vector-effect="non-scaling-stroke"/>
<path transform="translate(18.18,93.70) scale(0.00596,-0.00596)" d="M763 0H583V1102Q518 1043 412 983T223 894V1061Q375 1129 489 1226T650 1409H763Z" fill="#1a1a1a" stroke="#1a1a1a" stroke-width="0.3" vector-effect="non-scaling-stroke"/>
<path transform="translate(18.18,210.70) scale(0.00596,-0.00596)" d="M763 0H583V1102Q518 1043 412 983T223 894V1061Q375 1129 489 1226T650 1409H763Z" fill="#1a1a1a" stroke="#1a1a1a" stroke-width="0.3" vector-effect="non-scaling-stroke"/>
<path transform="translate(18.18,327.70) scale(0.00596,-0.00596)" d="M763 0H583V1102Q518 1043 412 983T223 894V1061Q375 1129 489 1226T650 1409H763Z" fill="#1a1a1a" stroke="#1a1a1a" stroke-width="0.3" vector-effect="non-scaling-stroke"/>
<path transform="translate(32.55,321.10) scale(0.00479,-0.00479)" d="M763 0H583V1102Q518 1043 412 983T223 894V1061Q375 1129 489 1226T650 1409H763Z" fill="#1a1a1a" stroke="#1a1a1a" stroke-width="0.3" vector-effect="non-scaling-stroke"/>
<path transform="translate(252.78,125.00) scale(0.00596,-0.00596)" d="M763 0H583V1102Q518 1043 412 983T223 894V1061Q375 1129 489 1226T650 1409H763Z" fill="#1a1a1a" stroke="#1a1a1a" stroke-width="0.3" vector-effect="non-scaling-stroke"/>
<path transform="translate(267.15,118.40) scale(0.00479,-0.00479)" d="M763 0H583V1102Q518 1043 412 983T223 894V1061Q375 1129 489 1226T650 1409H763Z" fill="#1a1a1a" stroke="#1a1a1a" stroke-width="0.3" vector-effect="non-scaling-stroke"/>
<path transform="translate(252.78,270.00) scale(0.00596,-0.00596)" d="M763 0H583V1102Q518 1043 412 983T223 894V1061Q375 1129 489 1226T650 1409H763Z" fill="#1a1a1a" stroke="#1a1a1a" stroke-width="0.3" vector-effect="non-scaling-stroke"/>
<path transform="translate(517.81,167.90) scale(0.00586,-0.00586)" d="M763 0H583V1102Q518 1043 412 983T223 894V1061Q375 1129 489 1226T650 1409H763Z" fill="#1a1a1a" stroke="#1a1a1a" stroke-width="0.3" vector-effect="non-scaling-stroke"/>
<path transform="translate(511.12,136.28) scale(0.00586,-0.00586)" d="M763 0H583V1102Q518 1043 412 983T223 894V1061Q375 1129 489 1226T650 1409H763Z" fill="#1a1a1a" stroke="#1a1a1a" stroke-width="0.3" vector-effect="non-scaling-stroke"/>
<path transform="translate(511.12,104.66) scale(0.00586,-0.00586)" d="M763 0H583V1102Q518 1043 412 983T223 894V1061Q375 1129 489 1226T650 1409H763Z" fill="#1a1a1a" stroke="#1a1a1a" stroke-width="0.3" vector-effect="non-scaling-stroke"/>
<path transform="translate(511.12,73.04) scale(0.00586,-0.00586)" d="M763 0H583V1102Q518 1043 412 983T223 894V1061Q375 1129 489 1226T650 1409H763Z" fill="#1a1a1a" stroke="#1a1a1a" stroke-width="0.3" vector-effect="non-scaling-stroke"/>
<path transform="translate(511.12,41.42) scale(0.00586,-0.00586)" d="M763 0H583V1102Q518 1043 412 983T223 894V1061Q375 1129 489 1226T650 1409H763Z" fill="#1a1a1a" stroke="#1a1a1a" stroke-width="0.3" vector-effect="non-scaling-stroke"/>
<path transform="translate(29.71,340.50) scale(0.00596,-0.00596)" d="M763 0H583V1102Q518 1043 412 983T223 894V1061Q375 1129 489 1226T650 1409H763Z" fill="#1a1a1a" stroke="#1a1a1a" stroke-width="0.3" vector-effect="non-scaling-stroke"/>
<path transform="translate(47.04,334.10) scale(0.00479,-0.00479)" d="M763 0H583V1102Q518 1043 412 983T223 894V1061Q375 1129 489 1226T650 1409H763Z" fill="#1a1a1a" stroke="#1a1a1a" stroke-width="0.3" vector-effect="non-scaling-stroke"/>
<path transform="translate(196.44,340.50) scale(0.00596,-0.00596)" d="M763 0H583V1102Q518 1043 412 983T223 894V1061Q375 1129 489 1226T650 1409H763Z" fill="#1a1a1a" stroke="#1a1a1a" stroke-width="0.3" vector-effect="non-scaling-stroke"/>
<path transform="translate(264.61,340.50) scale(0.00596,-0.00596)" d="M763 0H583V1102Q518 1043 412 983T223 894V1061Q375 1129 489 1226T650 1409H763Z" fill="#1a1a1a" stroke="#1a1a1a" stroke-width="0.3" vector-effect="non-scaling-stroke"/>
<path transform="translate(281.94,334.10) scale(0.00479,-0.00479)" d="M763 0H583V1102Q518 1043 412 983T223 894V1061Q375 1129 489 1226T650 1409H763Z" fill="#1a1a1a" stroke="#1a1a1a" stroke-width="0.3" vector-effect="non-scaling-stroke"/>
<path transform="translate(438.54,340.50) scale(0.00596,-0.00596)" d="M763 0H583V1102Q518 1043 412 983T223 894V1061Q375 1129 489 1226T650 1409H763Z" fill="#1a1a1a" stroke="#1a1a1a" stroke-width="0.3" vector-effect="non-scaling-stroke"/>
<path transform="translate(516.51,340.50) scale(0.00596,-0.00596)" d="M763 0H583V1102Q518 1043 412 983T223 894V1061Q375 1129 489 1226T650 1409H763Z" fill="#1a1a1a" stroke="#1a1a1a" stroke-width="0.3" vector-effect="non-scaling-stroke"/>
<path transform="translate(533.84,334.10) scale(0.00479,-0.00479)" d="M763 0H583V1102Q518 1043 412 983T223 894V1061Q375 1129 489 1226T650 1409H763Z" fill="#1a1a1a" stroke="#1a1a1a" stroke-width="0.3" vector-effect="non-scaling-stroke"/>
<path transform="translate(688.74,340.50) scale(0.00596,-0.00596)" d="M763 0H583V1102Q518 1043 412 983T223 894V1061Q375 1129 489 1226T650 1409H763Z" fill="#1a1a1a" stroke="#1a1a1a" stroke-width="0.3" vector-effect="non-scaling-stroke"/>
</svg></body></html>
